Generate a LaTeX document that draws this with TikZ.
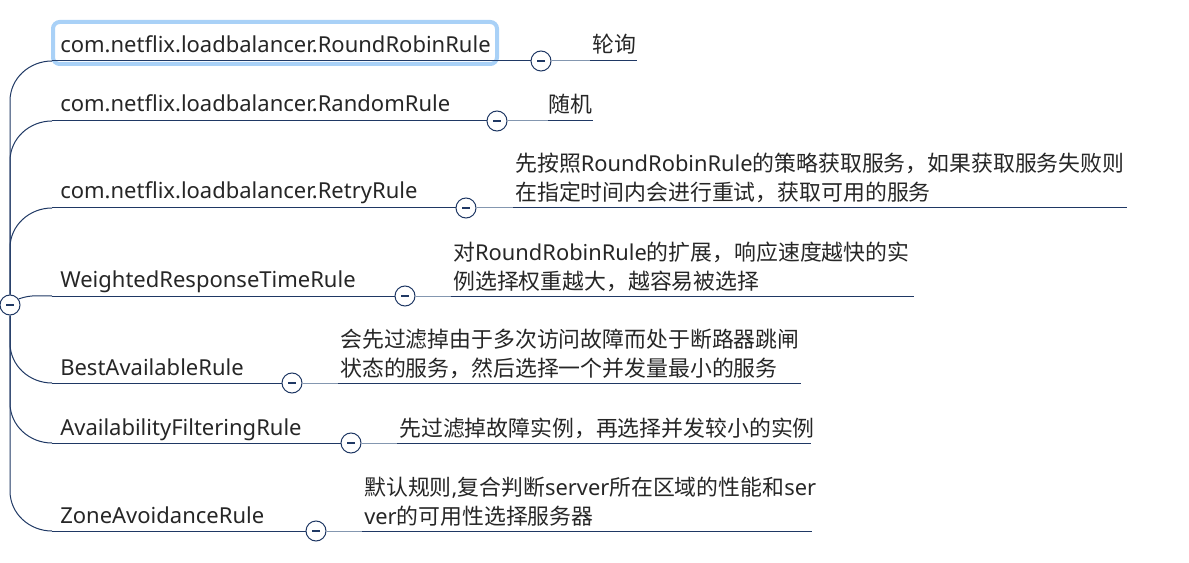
\documentclass[tikz,border=0pt]{standalone}
\usepackage{fontspec}
\setmainfont{Noto Sans}
\newfontfamily\cjk{Noto Sans CJK SC}
\usepackage{tikz}
\usetikzlibrary{positioning}
\definecolor{mynavy}{HTML}{1F3864}
\definecolor{mylink}{HTML}{8497B0}
\definecolor{myhl}{HTML}{A9D1F7}
\definecolor{mytext}{HTML}{262626}
\tikzset{
  rule/.style={anchor=base west, inner sep=0pt, text=mytext, font=\fontsize{16.5}{19}\selectfont},
  note/.style={anchor=base west, inner sep=0pt, align=left, text=mytext, font=\cjk\fontsize{16.4}{21.75}\selectfont},
  fold/.style={circle, draw=mynavy, fill=white, line width=0.75pt, minimum size=15pt, inner sep=0pt,
    path picture={\draw[mynavy, line width=0.9pt] ([xshift=-3pt]path picture bounding box.center) -- ([xshift=3pt]path picture bounding box.center);}},
  uline/.style={mynavy, line width=0.75pt},
  link/.style={mylink, line width=0.75pt},
}
\begin{document}
\begin{tikzpicture}[x=0.75pt, y=-0.75pt]
  \useasboundingbox (0,0) rectangle (1189,563);
  % root and fold circles
  \node[fold] (root) at (10,305) {};
  \node[fold] (f1) at (541,61) {};
  \node[fold] (f2) at (497,121) {};
  \node[fold] (f3) at (466,208) {};
  \node[fold] (f4) at (405,296) {};
  \node[fold] (f5) at (292,383) {};
  \node[fold] (f6) at (351,443) {};
  \node[fold] (f7) at (316,531) {};
  % rules
  \draw[myhl, line width=3pt, rounded corners=5pt] (53,22) rectangle (497,64);
  \node[rule] (r1) at (60,53) {com.netflix.loadbalancer.RoundRobinRule};
  \node[rule] (r2) at (60,112) {com.netflix.loadbalancer.RandomRule};
  \node[rule] (r3) at (60,199) {com.netflix.loadbalancer.RetryRule};
  \node[rule] (r4) at (60,287) {WeightedResponseTimeRule};
  \node[rule] (r5) at (60,375) {BestAvailableRule};
  \node[rule] (r6) at (60,435) {AvailabilityFilteringRule};
  \node[rule] (r7) at (60,523) {ZoneAvoidanceRule};
  \coordinate (s1) at (52,61);
  \coordinate (s2) at (52,121);
  \coordinate (s3) at (52,208);
  \coordinate (s4) at (52,296);
  \coordinate (s5) at (52,383);
  \coordinate (s6) at (52,443);
  \coordinate (s7) at (52,531);
  % trunk
  \draw[uline] (root.north) -- (10,101) to[out=90,in=180] (s1);
  \draw[uline] (root.north) -- (10,161) to[out=90,in=180] (s2);
  \draw[uline] (root.north) -- (10,248) to[out=90,in=180] (s3);
  \draw[uline] (root.35) to[out=20,in=180] (s4);
  \draw[uline] (root.south) -- (10,343) to[out=-90,in=180] (s5);
  \draw[uline] (root.south) -- (10,403) to[out=-90,in=180] (s6);
  \draw[uline] (root.south) -- (10,491) to[out=-90,in=180] (s7);
  \draw[uline] (s1) -- (f1);
  \draw[uline] (s2) -- (f2);
  \draw[uline] (s3) -- (f3);
  \draw[uline] (s4) -- (f4);
  \draw[uline] (s5) -- (f5);
  \draw[uline] (s6) -- (f6);
  \draw[uline] (s7) -- (f7);
  % notes
  \node[note] (n1) at (592,53) {轮询};
  \node[note] (n2) at (548,113) {随机};
  \node[note] (n3) at (515,201) {先按照{\rmfamily RoundRobinRule}的策略获取服务，如果获取服务失败则\\在指定时间内会进行重试，获取可用的服务};
  \node[note] (n4) at (453,289) {对{\rmfamily RoundRobinRule}的扩展，响应速度越快的实\\例选择权重越大，越容易被选择};
  \node[note] (n5) at (340,376) {会先过滤掉由于多次访问故障而处于断路器跳闸\\状态的服务，然后选择一个并发量最小的服务};
  \node[note] (n6) at (399,436) {先过滤掉故障实例，再选择并发较小的实例};
  \node[note] (n7) at (364,524) {默认规则{\rmfamily ,}复合判断{\rmfamily server}所在区域的性能和{\rmfamily ser}\\{\rmfamily ver}的可用性选择服务器};
  \coordinate (k1) at (590,61);  \coordinate (e1) at (637,61);
  \coordinate (k2) at (548,121); \coordinate (e2) at (593,121);
  \coordinate (k3) at (513,208); \coordinate (e3) at (1127,208);
  \coordinate (k4) at (451,296); \coordinate (e4) at (914,296);
  \coordinate (k5) at (338,383); \coordinate (e5) at (801,383);
  \coordinate (k6) at (397,443); \coordinate (e6) at (811,443);
  \coordinate (k7) at (362,531); \coordinate (e7) at (812,531);
  \draw[link] (f1) -- (k1); \draw[uline] (k1) -- (e1);
  \draw[link] (f2) -- (k2); \draw[uline] (k2) -- (e2);
  \draw[link] (f3) -- (k3); \draw[uline] (k3) -- (e3);
  \draw[link] (f4) -- (k4); \draw[uline] (k4) -- (e4);
  \draw[link] (f5) -- (k5); \draw[uline] (k5) -- (e5);
  \draw[link] (f6) -- (k6); \draw[uline] (k6) -- (e6);
  \draw[link] (f7) -- (k7); \draw[uline] (k7) -- (e7);
\end{tikzpicture}
\end{document}
